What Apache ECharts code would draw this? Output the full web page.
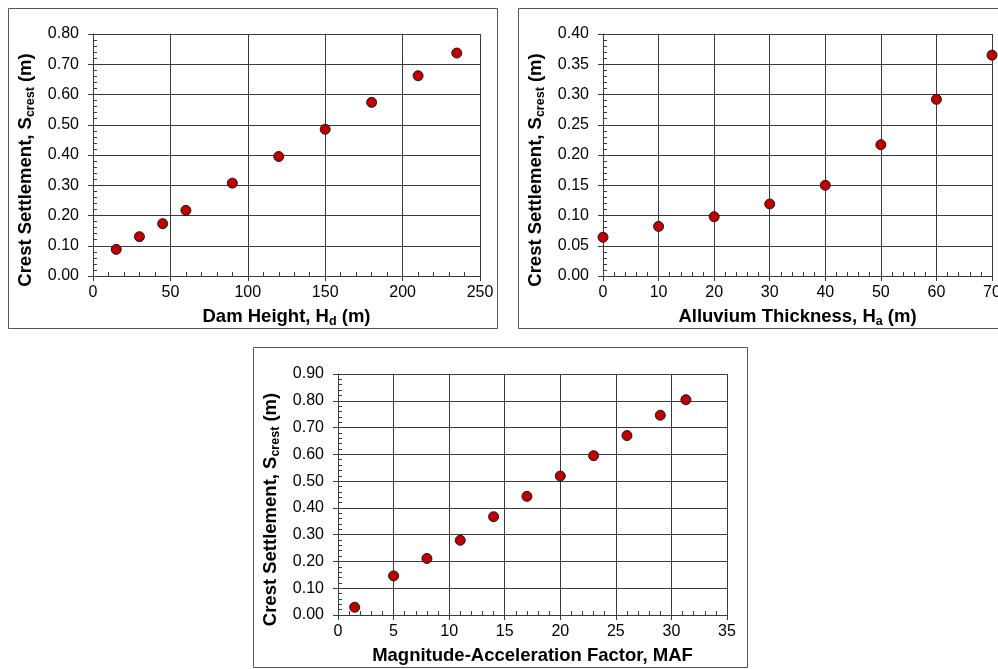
<!DOCTYPE html>
<html>
<head>
<meta charset="utf-8">
<script src="https://cdn.jsdelivr.net/npm/echarts@6/dist/echarts.min.js"></script>
<style>
  html, body { margin: 0; padding: 0; background: #fff; }
  #chart { width: 998px; height: 669px; }
</style>
</head>
<body>
<div id="chart"></div>
<script>
// Crest settlement vs. dam height
const damHeight = [15, 30, 45, 60, 90, 120, 150, 180, 210, 235];
const settlementByHeight = [0.088, 0.130, 0.173, 0.217, 0.307, 0.395, 0.485, 0.574, 0.662, 0.737];

// Crest settlement vs. alluvium thickness
const alluviumThickness = [0, 10, 20, 30, 40, 50, 60, 70];
const settlementByAlluvium = [0.064, 0.082, 0.098, 0.119, 0.150, 0.217, 0.292, 0.365];

// Crest settlement vs. magnitude-acceleration factor
const maf = [1.5, 5, 8, 11, 14, 17, 20, 23, 26, 29, 31.3];
const settlementByMaf = [0.029, 0.146, 0.211, 0.279, 0.367, 0.443, 0.519, 0.595, 0.670, 0.746, 0.804];

// Axis ranges [min, max, interval]
const heightAxis = [0, 250, 50];
const alluviumAxis = [0, 70, 10];
const mafAxis = [0, 35, 5];
const settleAxisA = [0, 0.8, 0.1];
const settleAxisB = [0, 0.4, 0.05];
const settleAxisC = [0, 0.9, 0.1];

const FONT = 'Liberation Sans, Arial, sans-serif';
const LINE = '#3a3a3a';

const yTitle = 'Crest Settlement, S{sub|crest} (m)';
const subRich = {
  sub: { fontSize: 12.5, fontWeight: 'bold', fontFamily: FONT, color: '#000',
         lineHeight: 12, verticalAlign: 'bottom' }
};

function toPairs(xs, ys) { return xs.map((x, i) => [x, ys[i]]); }

// Main axis: labels, outward major ticks, grid lines
function mainAxis(dim, gridIndex, range, name, nameGap, namePadding) {
  return {
    gridIndex, type: 'value',
    position: dim === 'x' ? 'bottom' : 'left',
    min: range[0], max: range[1], interval: range[2],
    axisLine: { show: true, onZero: false, lineStyle: { color: LINE, width: 1 } },
    axisTick: { show: true, inside: false, length: 5, lineStyle: { color: LINE } },
    minorTick: { show: false },
    axisLabel: {
      show: true, color: '#000', fontSize: 16, fontFamily: FONT,
      margin: dim === 'x' ? 9 : 14,
      formatter: dim === 'x' ? (v => String(+v.toFixed(2))) : (v => v.toFixed(2))
    },
    splitLine: { show: true, lineStyle: { color: LINE, width: 1 } },
    name, nameLocation: 'middle', nameGap,
    nameMoveOverlap: false,
    nameTextStyle: {
      fontSize: 18.5, fontWeight: 'bold', color: '#000', fontFamily: FONT,
      lineHeight: 22, padding: namePadding || 0, rich: subRich
    }
  };
}

// Companion axis: only the inward minor ticks
function minorAxis(dim, gridIndex, range) {
  return {
    gridIndex, type: 'value',
    position: dim === 'x' ? 'bottom' : 'left',
    min: range[0], max: range[1], interval: range[2],
    axisLine: { show: false, onZero: false },
    axisTick: { show: false, inside: true },
    minorTick: { show: true, splitNumber: 5, length: 4, lineStyle: { color: LINE, width: 1 } },
    axisLabel: { show: false },
    splitLine: { show: false },
    minorSplitLine: { show: false }
  };
}

function scatter(gridIdx, data) {
  return {
    type: 'scatter',
    xAxisIndex: gridIdx * 2, yAxisIndex: gridIdx * 2,
    data, symbol: 'circle', symbolSize: 10,
    itemStyle: { color: '#c00000', borderColor: '#1a1a1a', borderWidth: 1, opacity: 1 },
    emphasis: { disabled: true }, z: 5
  };
}

const chart = echarts.init(document.getElementById('chart'), null, { renderer: 'canvas' });

const boxStyle = { fill: 'none', stroke: '#555', lineWidth: 1 };

chart.setOption({
  animation: false,
  backgroundColor: '#fff',
  grid: [
    { left: 93, top: 34, width: 387, height: 242, containLabel: false, outerBoundsMode: 'none' },
    { left: 603, top: 34, width: 389, height: 242, containLabel: false, outerBoundsMode: 'none' },
    { left: 338, top: 374, width: 389, height: 241, containLabel: false, outerBoundsMode: 'none' }
  ],
  xAxis: [
    mainAxis('x', 0, heightAxis, 'Dam Height, H{sub|d} (m)', 30),
    minorAxis('x', 0, heightAxis),
    mainAxis('x', 1, alluviumAxis, 'Alluvium Thickness, H{sub|a} (m)', 30),
    minorAxis('x', 1, alluviumAxis),
    mainAxis('x', 2, mafAxis, 'Magnitude-Acceleration Factor, MAF', 30),
    minorAxis('x', 2, mafAxis)
  ],
  yAxis: [
    mainAxis('y', 0, settleAxisA, yTitle, 56, [0, 30, 0, 0]),
    minorAxis('y', 0, settleAxisA),
    mainAxis('y', 1, settleAxisB, yTitle, 56, [0, 30, 0, 0]),
    minorAxis('y', 1, settleAxisB),
    mainAxis('y', 2, settleAxisC, yTitle, 56, [0, 30, 0, 0]),
    minorAxis('y', 2, settleAxisC)
  ],
  series: [
    scatter(0, toPairs(damHeight, settlementByHeight)),
    scatter(1, toPairs(alluviumThickness, settlementByAlluvium)),
    scatter(2, toPairs(maf, settlementByMaf))
  ],
  graphic: [
    { type: 'rect', shape: { x: 8.5, y: 8.5, width: 489, height: 320 }, style: boxStyle, silent: true },
    { type: 'rect', shape: { x: 518.5, y: 8.5, width: 500, height: 320 }, style: boxStyle, silent: true },
    { type: 'rect', shape: { x: 253.5, y: 347.5, width: 494, height: 320 }, style: boxStyle, silent: true }
  ]
});
</script>
</body>
</html>
